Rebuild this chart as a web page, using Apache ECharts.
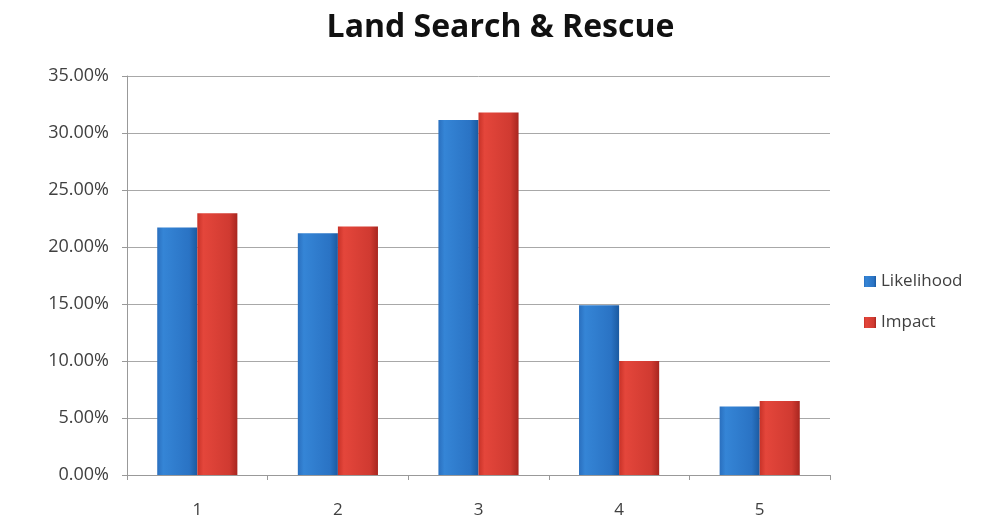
<!DOCTYPE html>
<html>
<head>
<meta charset="utf-8">
<script src="https://cdn.jsdelivr.net/npm/echarts@6/dist/echarts.min.js"></script>
<style>
html,body{margin:0;padding:0;background:#fff;}
#chart{width:1001px;height:519px;}
</style>
</head>
<body>
<div id="chart"></div>
<script>
var categories = ['1', '2', '3', '4', '5'];
var likelihood = [0.217, 0.212, 0.3115, 0.149, 0.060];
var impact = [0.2295, 0.218, 0.318, 0.100, 0.065];
var seriesNames = ['Likelihood', 'Impact'];

var chart = echarts.init(document.getElementById('chart'));

function grad(c0, c1, c2, c3) {
  return new echarts.graphic.LinearGradient(0, 0, 1, 0, [
    {offset: 0, color: c0},
    {offset: 0.15, color: c1},
    {offset: 0.8, color: c2},
    {offset: 1, color: c3}
  ]);
}

var font = 'Open Sans';

chart.setOption({
  backgroundColor: '#ffffff',
  animation: false,
  title: {
    text: 'Land Search & Rescue',
    left: 'center',
    top: 7,
    textStyle: {fontFamily: 'Open Sans', fontWeight: 'bold', fontSize: 32, color: '#111'}
  },
  legend: {
    orient: 'vertical',
    left: 859,
    top: 268,
    itemWidth: 12,
    itemHeight: 11,
    itemGap: 24,
    icon: 'rect',
    textStyle: {fontFamily: font, fontSize: 17, color: '#404040'},
    data: seriesNames
  },
  grid: {left: 127, right: 171, top: 76, bottom: 44, containLabel: false},
  xAxis: {
    type: 'category',
    data: categories,
    axisLine: {lineStyle: {color: '#999', width: 1}},
    axisTick: {show: true, length: 5, lineStyle: {color: '#999'}},
    axisLabel: {fontFamily: font, fontSize: 17, color: '#404040', margin: 27}
  },
  yAxis: {
    type: 'value',
    min: 0,
    max: 0.35,
    interval: 0.05,
    axisLine: {show: true, lineStyle: {color: '#999'}},
    axisTick: {show: true, length: 5, lineStyle: {color: '#999'}},
    splitLine: {lineStyle: {color: '#a8a8a8', width: 1}},
    axisLabel: {
      fontFamily: font, fontSize: 18, color: '#404040', margin: 18,
      formatter: function (v) { return (v * 100).toFixed(2) + '%'; }
    }
  },
  series: [
    {
      name: seriesNames[0],
      type: 'bar',
      data: likelihood,
      barGap: '0%',
      barCategoryGap: '43%',
      itemStyle: {color: grad('#2a6fbe', '#3585d6', '#2a73c4', '#1b5aa0')}
    },
    {
      name: seriesNames[1],
      type: 'bar',
      data: impact,
      itemStyle: {color: grad('#c83228', '#e4463b', '#d03a31', '#a8261f')}
    }
  ]
});
</script>
</body>
</html>
